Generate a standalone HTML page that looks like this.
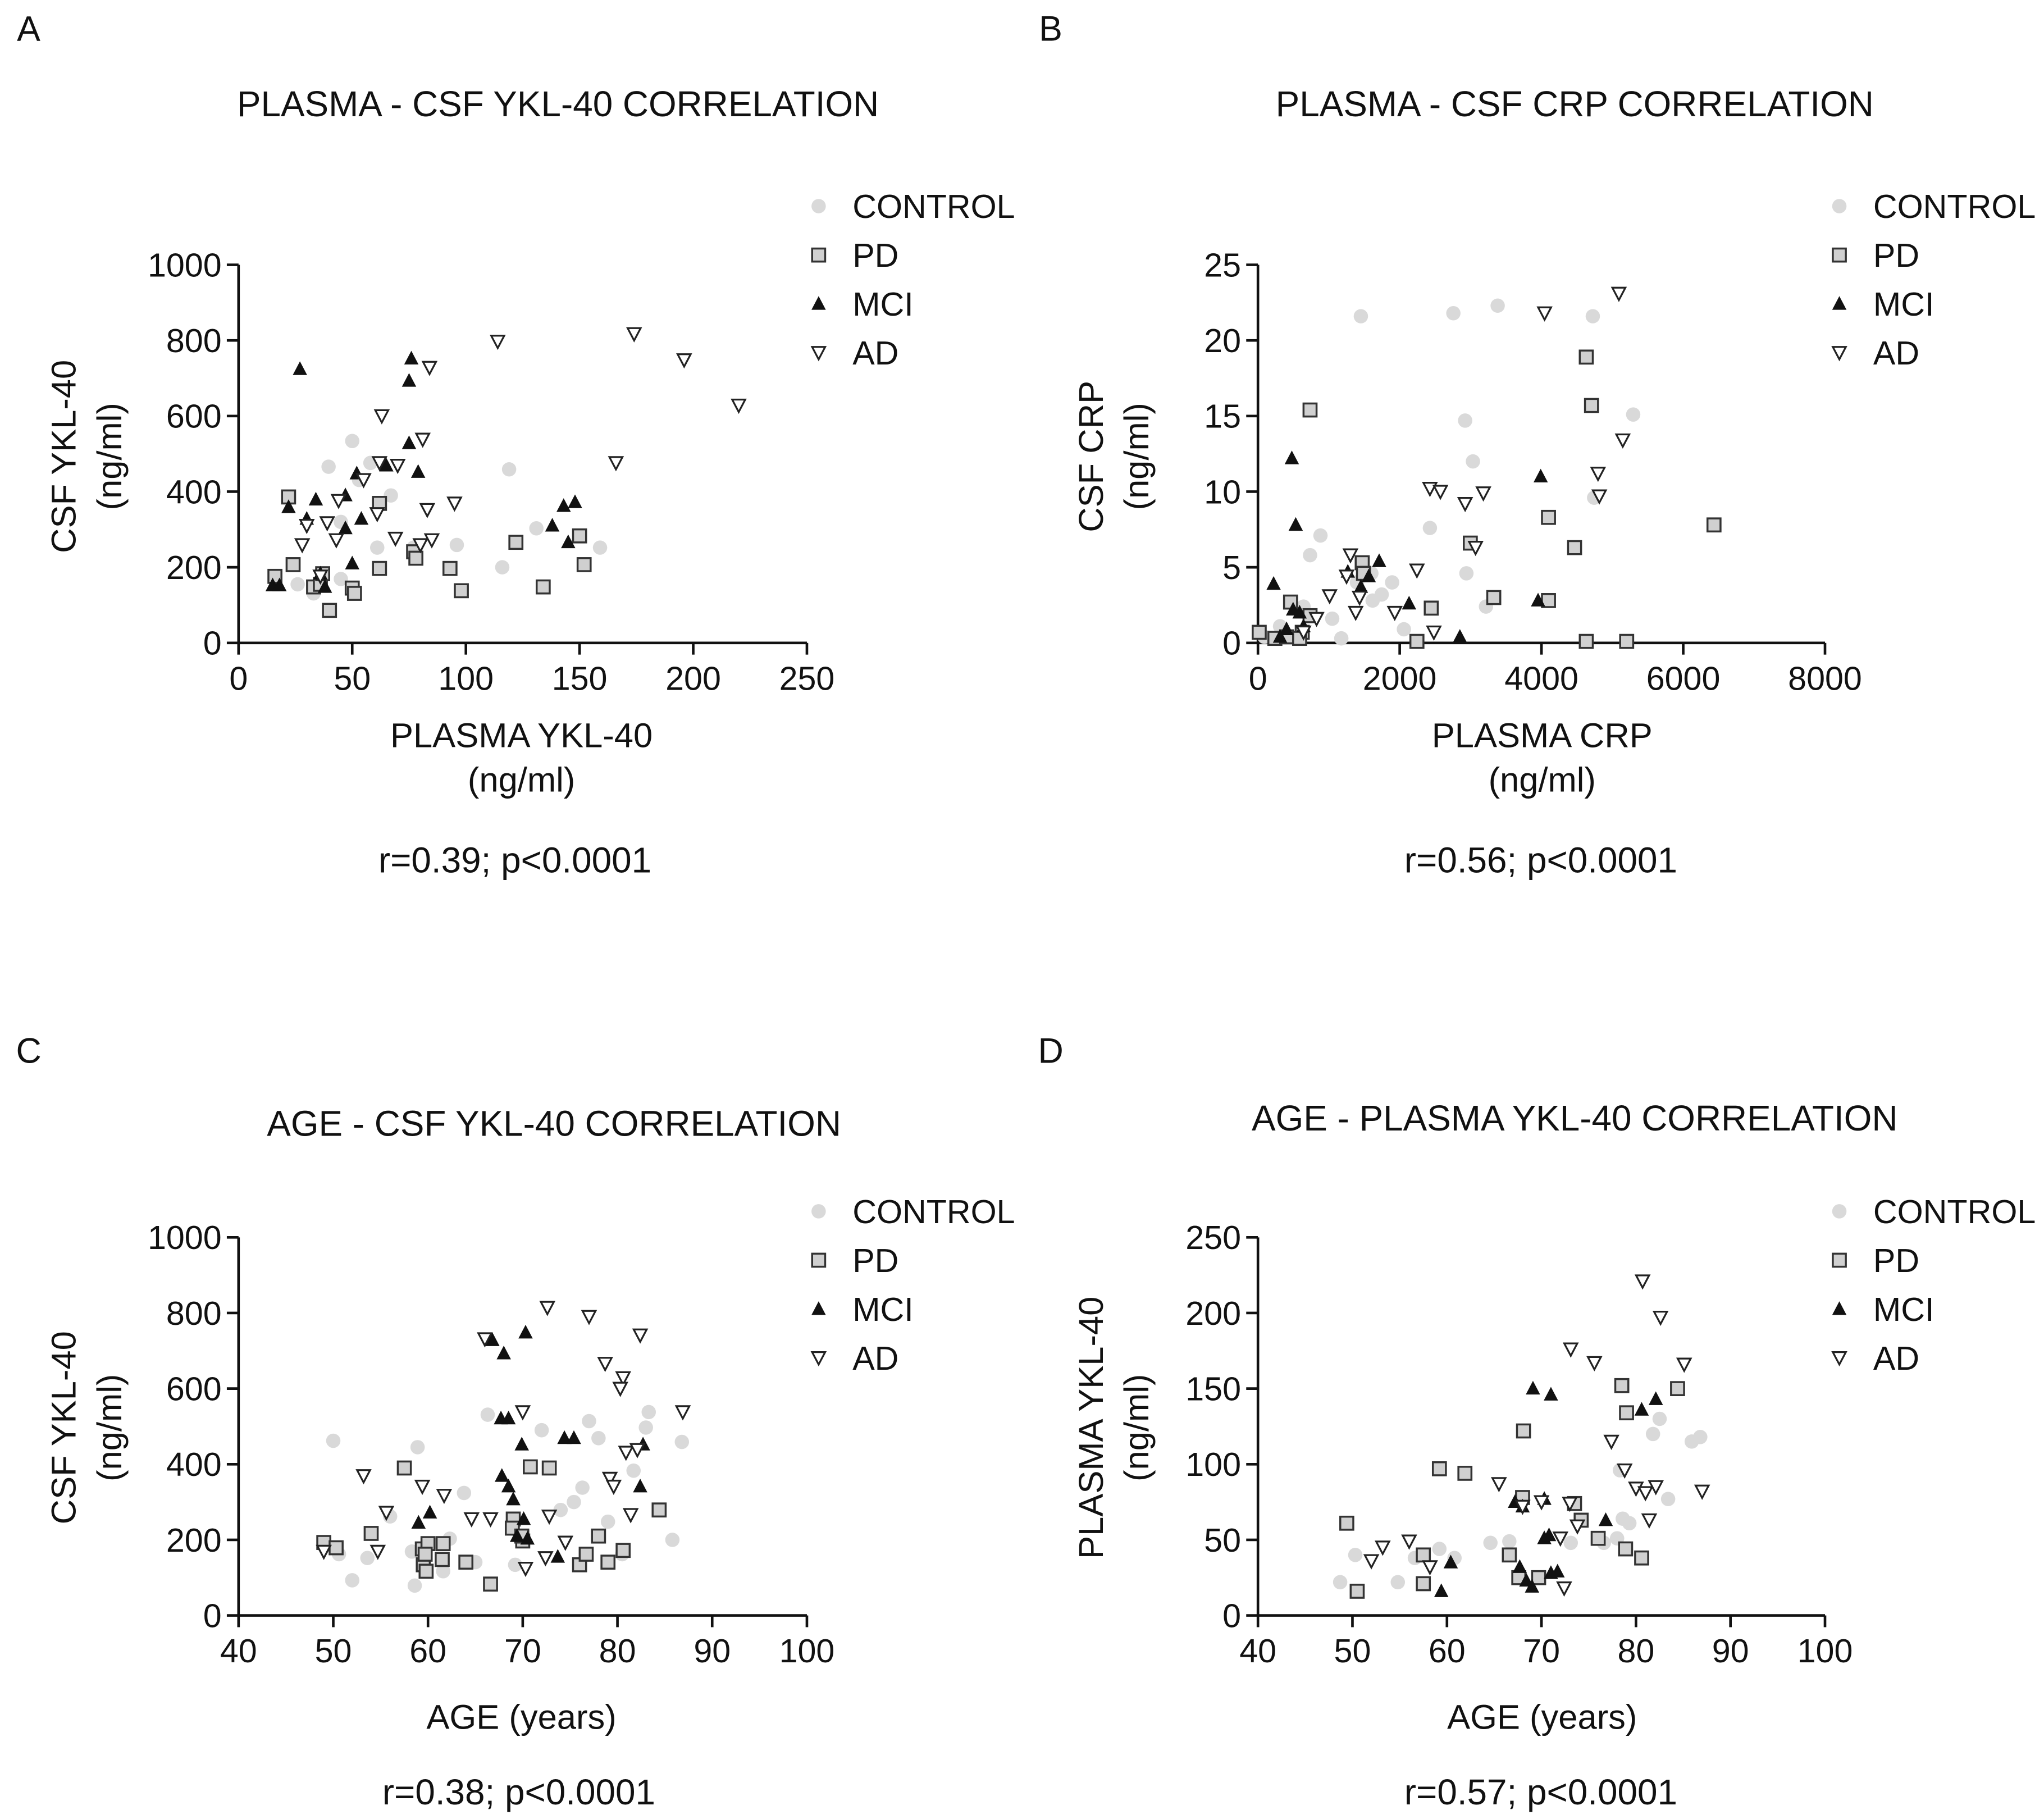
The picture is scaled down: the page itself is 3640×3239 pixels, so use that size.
<!DOCTYPE html>
<html><head><meta charset="utf-8"><style>
html,body{margin:0;padding:0;background:#fff}
svg{display:block}
text{font-family:"Liberation Sans",Arial,sans-serif;fill:#111}
</style></head><body>
<svg id="fig" width="3640" height="3239" viewBox="0 0 1568 1395" xmlns="http://www.w3.org/2000/svg"></svg>
<script>
// ---- Panel A data (plasma YKL-40 vs CSF YKL-40)
const aControlX=[39.6,50,53,58,45,67,77,96,116,119,131,159,33,26,61,45];
const aControlY=[466,534,431,476,169,390,252,259,200,459,303,252,131,155,252,320];
const aPdX=[16,22,24,33,36,37,40,50,51,62,62,77,78,93,98,122,134,150,152];
const aPdY=[176,386,207,148,155,183,86,145,131,369,197,241,224,197,138,266,148,283,207];
const aMciX=[27,15,18,22,30,34,36,38,47,52,47,50,54,65,76,75,75,79,143,148,145,138];
const aMciY=[724,152,152,359,328,379,183,148,390,448,303,210,328,469,752,693,528,452,362,372,266,310];
const aAdX=[30,39,44,63,70,62,61,69,80,81,83,85,84,95,114,166,174,196,220,28,36,43,55];
const aAdY=[310,317,376,600,469,476,341,276,259,538,352,272,728,369,797,476,817,748,628,259,176,272,431];
// ---- Panel B data (plasma CRP vs CSF CRP)
const bControlX=[1452,2757,3382,4724,5294,2923,3033,4743,2426,882,2941,3217,1397,1618,1893,2059,1176,312,92,643,1600,1746,735,1048];
const bControlY=[21.6,21.8,22.3,21.6,15.1,14.7,12,9.6,7.6,7.1,4.6,2.4,4,2.8,4,0.9,0.3,1.1,0.4,2.4,4.6,3.2,5.8,1.6];
const bPdX=[735,4632,4706,6434,4099,4467,2996,3327,4099,2445,2243,4632,5202,1471,1489,460,735,625,18,588,239,404];
const bPdY=[15.4,18.9,15.7,7.8,8.3,6.3,6.6,3,2.8,2.3,0.1,0.1,0.1,5.3,4.6,2.7,1.8,0.7,0.7,0.3,0.3,0.4];
const bMciX=[478,533,1710,221,3989,3952,2849,2132,1452,1563,1268,496,404,312,643,588];
const bMciY=[12.2,7.8,5.4,3.9,11,2.8,0.4,2.6,3.7,4.4,4.7,2.2,0.9,0.4,1.1,2.0];
const bAdX=[5092,4044,5147,4798,4816,2426,2574,3180,2923,3070,2243,1305,1434,1250,1011,1930,2482,827,1379,643];
const bAdY=[23.1,21.8,13.4,11.2,9.7,10.2,10,9.9,9.2,6.3,4.8,5.8,3,4.4,3.1,2,0.7,1.6,2,0.7];
// ---- Panel C data (age vs CSF YKL-40)
const cControlX=[50,50.6,52,56,58.9,58.3,58.6,62.3,65,63.8,66.3,69.2,72,74,76.3,77,78,80.5,79,81.7,83,83.3,85.8,86.8,75.4,61.6,53.6];
const cControlY=[462,162,93,262,445,169,79,203,141,324,531,134,490,279,338,514,469,162,248,383,497,538,200,459,300,117,152];
const cPdX=[49,50.3,54,57.5,59.4,60,59.5,61.6,61.5,59.8,64,66.6,69,70,68.9,70.8,72.8,76,76.7,79,78,80.6,84.4,69.9,59.7];
const cPdY=[193,179,217,390,176,190,134,190,148,117,141,83,255,197,231,393,390,134,162,141,210,172,279,210,162];
const cMciX=[59,60.2,66.8,68,70.3,67.7,68.5,69.9,67.8,68.5,70.1,70.5,69.4,74.4,75.4,82.4,82.7,73.7,69];
const cMciY=[245,272,728,693,748,521,521,452,369,341,255,203,210,469,469,341,452,155,307];
const cAdX=[49,53.2,54.7,55.6,59.4,61.7,66,66.6,70,70.3,72.6,72.4,74.5,72.8,77,78.7,79.2,80.6,80.3,79.6,80.9,81.4,82.1,82.4,86.9,64.6];
const cAdY=[169,369,169,272,341,317,731,255,538,124,814,152,193,262,790,666,362,628,600,341,431,266,438,741,538,255];
// ---- Panel D data (age vs plasma YKL-40)
const dControlX=[48.7,50.3,54.8,56.6,59.2,60.8,64.6,66.6,73.1,76.6,78,78.6,78.3,81.8,82.5,83.4,85.9,86.8,79.3];
const dControlY=[22,40,22,38,44,38,48,49,48,48,51,64,96,120,130,77,115,118,61];
const dPdX=[49.4,50.5,57.5,57.5,59.2,61.9,66.6,67.6,68.1,69.7,73.5,74.2,76,78.5,79,80.6,84.4,78.9,68];
const dPdY=[61,16,40,21,97,94,40,25,122,25,74,63,51,152,134,38,150,44,78];
const dMciX=[59.4,60.4,69.1,71,67.2,68,67.7,68.4,70.3,71,70.3,76.8,80.6,82.1,71.7,69,70.8];
const dMciY=[16,35,150,146,75,72,32,23,51,28,77,63,136,143,29,19,53];
const dAdX=[52,53.2,56,58.2,65.5,68,73.1,75.6,72.4,73,73.8,77.4,78.8,80,80.7,81,82.1,82.6,81.4,85.1,87,72,70];
const dAdY=[36,45,49,32,87,72,176,167,18,74,59,115,96,84,221,81,85,197,63,166,82,51,75];

const xTicksA=[0,50,100,150,200,250], yTicksA=[0,200,400,600,800,1000];
const xTicksB=[0,2000,4000,6000,8000], yTicksB=[0,5,10,15,20,25];
const xTicksAge=[40,50,60,70,80,90,100];
const yTicksD=[0,50,100,150,200,250];

const NS="http://www.w3.org/2000/svg";
const svg=document.getElementById('fig');
function el(tag,attrs,parent){const e=document.createElementNS(NS,tag);for(const k in attrs)e.setAttribute(k,attrs[k]);(parent||svg).appendChild(e);return e;}
function txt(s,x,y,size,anchor,parent,rot){const t=el('text',{x:x,y:y,'font-size':size,'text-anchor':anchor||'middle'},parent);if(rot)t.setAttribute('transform',`rotate(-90 ${x} ${y})`);t.textContent=s;return t;}

function marker(g,type,x,y){
  let m;
  if(type==='control'){m=el('circle',{cx:x,cy:y,r:5.5,fill:'#d9d9d9'},g);}
  else if(type==='pd'){m=el('rect',{x:x-5,y:y-5,width:10,height:10,fill:'#d0d0d0',stroke:'#333','stroke-width':1.5},g);}
  else if(type==='mci'){m=el('polygon',{points:`${x},${y-6} ${x+5.5},${y+4.5} ${x-5.5},${y+4.5}`,fill:'#111'},g);}
  else {m=el('polygon',{points:`${x-5},${y-4.5} ${x+5},${y-4.5} ${x},${y+5}`,fill:'#fff',stroke:'#222','stroke-width':1.4},g);}
  return m;
}

function panel(p){
  const g=el('g',{});
  
  
  const sx=v=>p.x0+(v-p.xmin)/(p.xmax-p.xmin)*(p.x1-p.x0);
  const sy=v=>p.y0-(v-p.ymin)/(p.ymax-p.ymin)*(p.y0-p.y1);
  const lt=txt(p.letter,p.lx,p.ly,27,'middle',g);
  
  
  const tt=txt(p.title,p.tx,p.ty,27.5,'middle',g);
  
  
  const ax=el('g',{},g);
  
  
  el('line',{x1:p.x0,x2:p.x1,y1:p.y0,y2:p.y0,stroke:'#111','stroke-width':2},ax);
  p.xt.forEach(v=>{el('line',{x1:sx(v),x2:sx(v),y1:p.y0,y2:p.y0+9,stroke:'#111','stroke-width':2},ax);txt(String(v),sx(v),p.y0+36,25.5,'middle',ax);});
  const ay=el('g',{},g);
  
  
  el('line',{x1:p.x0,x2:p.x0,y1:p.y0,y2:p.y1,stroke:'#111','stroke-width':2},ay);
  p.yt.forEach(v=>{el('line',{x1:p.x0-9,x2:p.x0,y1:sy(v),y2:sy(v),stroke:'#111','stroke-width':2},ay);txt(String(v),p.x0-13,sy(v)+9,25.5,'end',ay);});
  const xl=txt(p.xl1,p.xlx,p.xly,26.5,'middle',g);
  
  
  if(p.xl2){const x2=txt(p.xl2,p.xlx,p.xly+34,26.5,'middle',g);}
  const yl=txt(p.yl,p.ylx,p.yly,26.5,'middle',g,true);
  
  
  const yu=txt('(ng/ml)',p.ylx+35,p.yly,26.5,'middle',g,true);
  
  
  const st=txt(p.stat,p.sx,p.sy,27.5,'middle',g);
  
  
  const series=[['control',p.c[0],p.c[1]],['pd',p.pd[0],p.pd[1]],['mci',p.m[0],p.m[1]],['ad',p.ad[0],p.ad[1]]];
  series.forEach(([t,xs,ys])=>{
    const sg=el('g',{},g);
    
    
    xs.forEach((v,i)=>{const m=marker(sg,t,sx(v),sy(ys[i]));
      
      });
  });
  const lg=el('g',{},g);
  
  
  const labels=['CONTROL','PD','MCI','AD'],types=['control','pd','mci','ad'];
  labels.forEach((l,i)=>{const y=p.legy+i*37.5;
    const e=el('g',{},lg);
    
    
    marker(e,types[i],p.legx,y);txt(l,p.legx+26,y+9,25.5,'start',e);});
}

panel({name:'panel-a',letter:'A',lx:22,ly:31,title:'PLASMA - CSF YKL-40 CORRELATION',tx:428,ty:89,
 x0:183,x1:619,y0:493,y1:203,xmin:0,xmax:250,ymin:0,ymax:1000,xt:xTicksA,yt:yTicksA,
 xl1:'PLASMA YKL-40',xl2:'(ng/ml)',xlx:400,xly:573,yl:'CSF YKL-40',ylx:58,yly:350,stat:'r=0.39; p<0.0001',sx:395,sy:669,
 legx:628,legy:158,c:[aControlX,aControlY],pd:[aPdX,aPdY],m:[aMciX,aMciY],ad:[aAdX,aAdY]});
panel({name:'panel-b',letter:'B',lx:806,ly:31,title:'PLASMA - CSF CRP CORRELATION',tx:1208,ty:89,
 x0:965,x1:1400,y0:493,y1:203,xmin:0,xmax:8000,ymin:0,ymax:25,xt:xTicksB,yt:yTicksB,
 xl1:'PLASMA CRP',xl2:'(ng/ml)',xlx:1183,xly:573,yl:'CSF CRP',ylx:846,yly:350,stat:'r=0.56; p<0.0001',sx:1182,sy:669,
 legx:1411,legy:158,c:[bControlX,bControlY],pd:[bPdX,bPdY],m:[bMciX,bMciY],ad:[bAdX,bAdY]});
panel({name:'panel-c',letter:'C',lx:22,ly:815,title:'AGE - CSF YKL-40 CORRELATION',tx:425,ty:871,
 x0:183,x1:619,y0:1239,y1:949,xmin:40,xmax:100,ymin:0,ymax:1000,xt:xTicksAge,yt:yTicksA,
 xl1:'AGE (years)',xl2:null,xlx:400,xly:1326,yl:'CSF YKL-40',ylx:58,yly:1095,stat:'r=0.38; p<0.0001',sx:398,sy:1384,
 legx:628,legy:929,c:[cControlX,cControlY],pd:[cPdX,cPdY],m:[cMciX,cMciY],ad:[cAdX,cAdY]});
panel({name:'panel-d',letter:'D',lx:806,ly:815,title:'AGE - PLASMA YKL-40 CORRELATION',tx:1208,ty:867,
 x0:965,x1:1400,y0:1239,y1:949,xmin:40,xmax:100,ymin:0,ymax:250,xt:xTicksAge,yt:yTicksD,
 xl1:'AGE (years)',xl2:null,xlx:1183,xly:1326,yl:'PLASMA YKL-40',ylx:846,yly:1095,stat:'r=0.57; p<0.0001',sx:1182,sy:1384,
 legx:1411,legy:929,c:[dControlX,dControlY],pd:[dPdX,dPdY],m:[dMciX,dMciY],ad:[dAdX,dAdY]});
</script>
</body></html>
